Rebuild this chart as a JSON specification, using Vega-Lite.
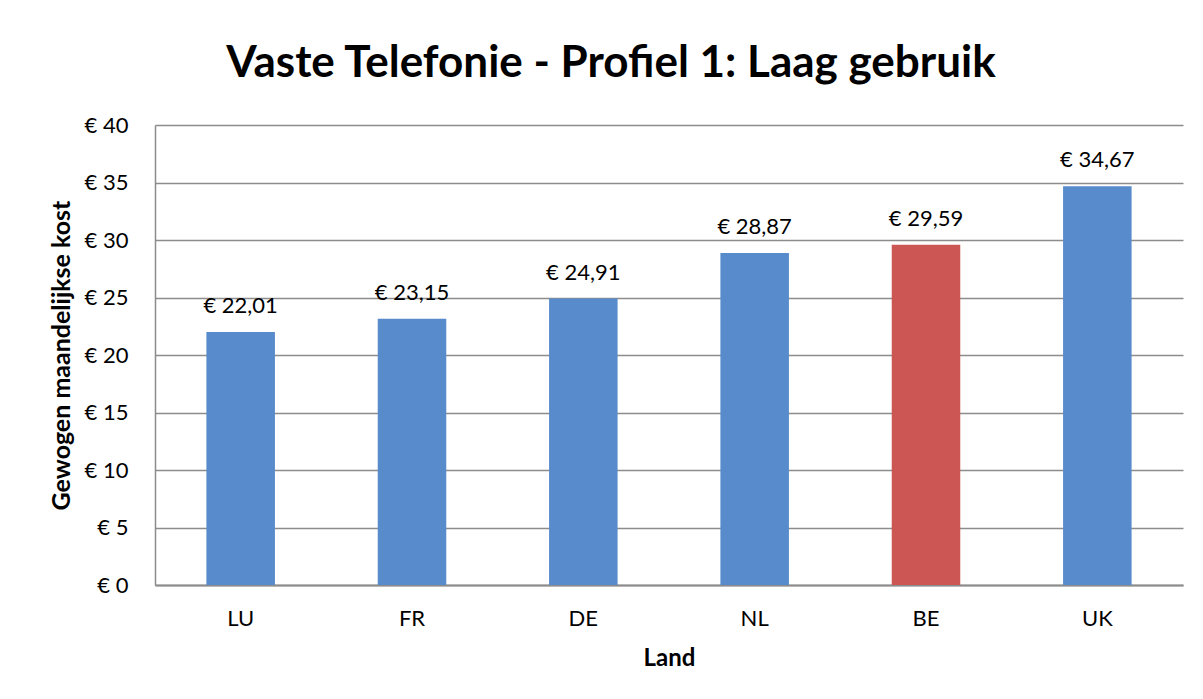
{
  "$schema": "https://vega.github.io/schema/vega-lite/v6.json",
  "autosize": "none",
  "width": 1028,
  "height": 460,
  "padding": {"left": 155, "top": 125, "right": 20, "bottom": 114},
  "background": "white",
  "title": {
    "text": "Vaste Telefonie - Profiel 1: Laag gebruik",
    "font": "Lato",
    "fontSize": 44,
    "fontWeight": "bold",
    "color": "black",
    "anchor": "middle",
    "baseline": "alphabetic",
    "offset": -7,
    "dx": -58
  },
  "data": {
    "values": [
      {"land": "LU", "kost": 22.01, "label": "€ 22,01", "highlight": "no"},
      {"land": "FR", "kost": 23.15, "label": "€ 23,15", "highlight": "no"},
      {"land": "DE", "kost": 24.91, "label": "€ 24,91", "highlight": "no"},
      {"land": "NL", "kost": 28.87, "label": "€ 28,87", "highlight": "no"},
      {"land": "BE", "kost": 29.59, "label": "€ 29,59", "highlight": "yes"},
      {"land": "UK", "kost": 34.67, "label": "€ 34,67", "highlight": "no"}
    ]
  },
  "encoding": {
    "x": {
      "field": "land",
      "type": "nominal",
      "sort": null,
      "title": "Land",
      "scale": {"paddingInner": 0.6, "paddingOuter": 0.3},
      "axis": {
        "labelAngle": 0,
        "labelFont": "Lato",
        "labelFontSize": 22,
        "labelColor": "black",
        "labelPadding": 23,
        "ticks": false,
        "domainColor": "#8c8c8c",
        "domainWidth": 2,
        "titleFont": "Lato",
        "titleFontSize": 24,
        "titleFontWeight": "bold",
        "titleColor": "black",
        "titlePadding": 17
      }
    },
    "y": {
      "field": "kost",
      "type": "quantitative",
      "title": "Gewogen maandelijkse kost",
      "scale": {"domain": [0, 40]},
      "axis": {
        "values": [0, 5, 10, 15, 20, 25, 30, 35, 40],
        "labelExpr": "'€ ' + datum.value",
        "labelFont": "Lato",
        "labelFontSize": 22,
        "labelColor": "black",
        "labelPadding": 27,
        "ticks": false,
        "grid": true,
        "gridColor": "#8c8c8c",
        "gridWidth": 1.5,
        "domainColor": "#8c8c8c",
        "domainWidth": 1.5,
        "titleFont": "Lato",
        "titleFontSize": 25,
        "titleFontWeight": "bold",
        "titleColor": "black",
        "titlePadding": 10
      }
    }
  },
  "layer": [
    {
      "mark": {"type": "bar"},
      "encoding": {
        "color": {
          "field": "highlight",
          "type": "nominal",
          "scale": {"domain": ["no", "yes"], "range": ["#588BCB", "#CB5654"]},
          "legend": null
        }
      }
    },
    {
      "mark": {"type": "text", "font": "Lato", "fontSize": 22, "color": "black", "baseline": "alphabetic", "dy": -19},
      "encoding": {"text": {"field": "label"}}
    }
  ],
  "config": {"view": {"stroke": null}}
}
